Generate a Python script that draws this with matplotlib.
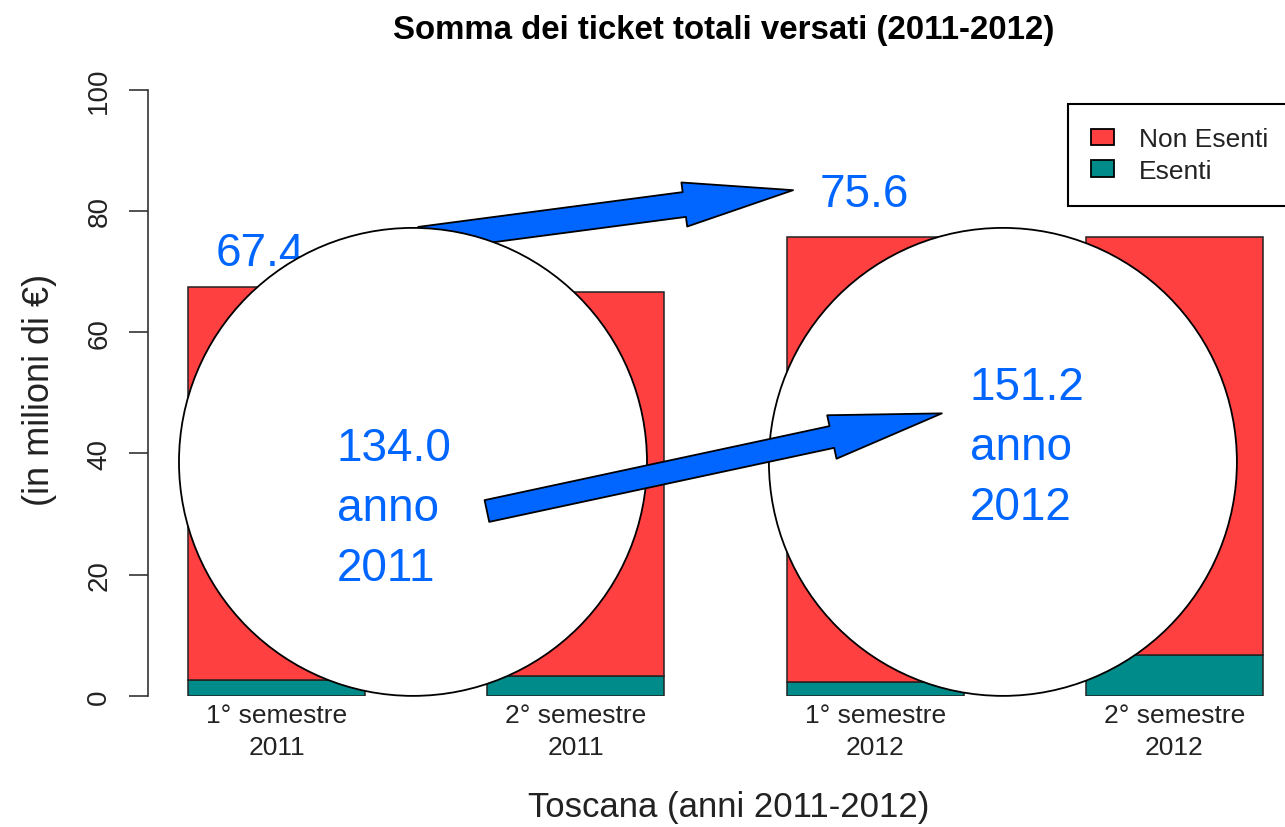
import matplotlib
matplotlib.use("Agg")
import matplotlib.pyplot as plt
from matplotlib.patches import Ellipse, FancyArrowPatch, ArrowStyle, Patch

plt.rcParams['font.family'] = ['Liberation Sans', 'DejaVu Sans']

# ---- data ----
categories = ["1° semestre\n2011", "2° semestre\n2011", "1° semestre\n2012", "2° semestre\n2012"]
totali = [67.4, 66.6, 75.6, 75.6]          # total height of each bar
esenti = [2.6, 3.3, 2.3, 6.7]              # Esenti portion (bottom)
non_esenti = [t - e for t, e in zip(totali, esenti)]
series_names = ["Non Esenti", "Esenti"]
yticks = [0, 20, 40, 60, 80, 100]

# annotations
label_top = ["67.4", "75.6"]
label_top_pos = [(-0.205, 73.1), (1.815, 82.8)]
circle_centers = [(0.456, 38.6), (2.427, 38.6)]
circle_texts = ["134.0\nanno\n2011", "151.2\nanno\n2012"]
circle_text_pos = [(0.202, 31.0), (2.317, 41.0)]
arrows = [((0.479, 75.3), (1.726, 83.4)), ((0.703, 30.5), (2.223, 46.6))]

RED = "#FF4040"
TEAL = "#008B8B"
BLUE = "#0066FF"

W, H = 1285, 828
fig = plt.figure(figsize=(W / 100, H / 100), dpi=100)
px_per_x = 299.3
x0_px = 276.5
left_px, right_px = 148, 1285
y0_px, y100_px = 697, 90.5
ax = fig.add_axes([left_px / W, 1 - y0_px / H, (right_px - left_px) / W, (y0_px - y100_px) / H])
ax.set_xlim((left_px - x0_px) / px_per_x, (right_px - x0_px) / px_per_x)
ax.set_ylim(0, 100)

xs = list(range(len(categories)))
bw = 177 / px_per_x
ax.bar(xs, esenti, width=bw, color=TEAL, edgecolor="#222222", linewidth=1.1, zorder=2, label=series_names[1])
ax.bar(xs, non_esenti, bottom=esenti, width=bw, color=RED, edgecolor="#222222", linewidth=1.1, zorder=2,
       label=series_names[0])

for s in ["top", "right", "bottom"]:
    ax.spines[s].set_visible(False)
ax.spines["left"].set_bounds(0, 100)
ax.spines["left"].set_linewidth(1.2)
ax.spines["left"].set_color("#333333")
ax.set_yticks(yticks)
ax.set_yticklabels([str(v) for v in yticks], rotation=90, va="center", fontsize=20, color="#222222")
ax.tick_params(axis="y", length=13.7, width=1.2, color="#333333", pad=12)
ax.set_xticks(xs)
ax.set_xticklabels(categories, fontsize=19, color="#222222", linespacing=1.4)
ax.tick_params(axis="x", length=0, pad=5)

# circle radius in px -> data units
r_px = 234
cw = 2 * r_px / px_per_x
ch = 2 * r_px / ((y0_px - y100_px) / 100)

# arrow 1 (below circle 1)
a1 = FancyArrowPatch(arrows[0][0], arrows[0][1],
                     arrowstyle=ArrowStyle.Simple(head_length=79, head_width=32, tail_width=18),
                     mutation_scale=1, shrinkA=0, shrinkB=0, facecolor=BLUE, edgecolor="black",
                     linewidth=1.3, zorder=3, clip_on=False)
ax.add_patch(a1)

for (cx, cy) in circle_centers:
    e = Ellipse((cx, cy), cw, ch, facecolor="white", edgecolor="black", linewidth=1.3, zorder=4, clip_on=False)
    ax.add_patch(e)

a2 = FancyArrowPatch(arrows[1][0], arrows[1][1],
                     arrowstyle=ArrowStyle.Simple(head_length=81, head_width=32, tail_width=16),
                     mutation_scale=1, shrinkA=0, shrinkB=0, facecolor=BLUE, edgecolor="black",
                     linewidth=1.3, zorder=5, clip_on=False)
ax.add_patch(a2)

for t, (x, y) in zip(label_top, label_top_pos):
    ax.text(x, y, t, fontsize=33, color=BLUE, ha="left", va="center", zorder=3.5)
for t, (x, y) in zip(circle_texts, circle_text_pos):
    ax.text(x, y, t, fontsize=33, color=BLUE, ha="left", va="center", linespacing=1.47,
            multialignment="left", zorder=6)

handles = [Patch(facecolor=RED, edgecolor="black", linewidth=1.3, label=series_names[0]),
           Patch(facecolor=TEAL, edgecolor="black", linewidth=1.3, label=series_names[1])]
leg = ax.legend(handles=handles, loc="upper left", bbox_to_anchor=(1068 / W, 1 - 105 / H),
                bbox_transform=fig.transFigure, fontsize=19, frameon=True, fancybox=False,
                framealpha=1, edgecolor="black", borderpad=0.88, handlelength=0.85, handleheight=0.6,
                handletextpad=0.95, labelspacing=0.3, borderaxespad=0)
leg.get_frame().set_linewidth(1.5)
leg.set_zorder(10)
for txt in leg.get_texts():
    txt.set_color("#222222")

fig.text(724 / W, 1 - 31 / H, "Somma dei ticket totali versati (2011-2012)", fontsize=23.8,
         fontweight="bold", ha="center", va="center", color="black")
fig.text(729 / W, 1 - 808 / H, "Toscana (anni 2011-2012)", fontsize=25, ha="center", va="center",
         color="#222222")
fig.text(40 / W, 1 - 390 / H, "(in milioni di €)", fontsize=26, ha="center", va="center", rotation=90,
         color="#222222")

fig.savefig("out.png", dpi=100)
